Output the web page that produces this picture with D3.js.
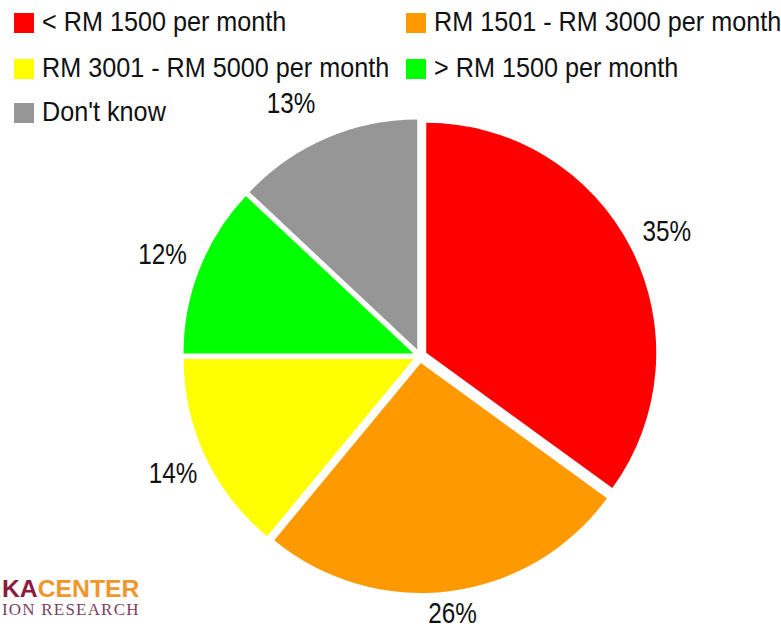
<!DOCTYPE html>
<html>
<head>
    <meta charset="utf-8">
    <title>Income pie</title>
    <script src="https://d3js.org/d3.v7.min.js"></script>
    <style>
        body { margin: 0; background: #fff; }
        svg text { font-family: 'Liberation Sans', Arial, sans-serif; fill: #111; }
    </style>
</head>
<body>
    <svg width="781" height="629"></svg>
    <script>
        // data
        var categories = ["< RM 1500 per month", "RM 1501 - RM 3000 per month", "RM 3001 - RM 5000 per month", "> RM 1500 per month", "Don't know"];
        var values = [35, 26, 14, 12, 13];
        var colors = ["#ff0000", "#ff9900", "#ffff00", "#00ff00", "#969696"];

        var svg = d3.select("svg");
        var cx = 420, cy = 356, radius = 230, explode = 7;
        // no narrow font installed, so squeeze the text horizontally
        var legendSqueeze = 0.9, labelSqueeze = 0.81;

        var pie = d3.pie().sort(null).value(d => d.value);
        var arc = d3.arc().innerRadius(0).outerRadius(radius);

        var data = categories.map((c, i) => ({ name: c, value: values[i], color: colors[i] }));
        var arcs = pie(data);

        var g = svg.append("g").attr("transform", "translate(" + cx + "," + cy + ")");

        g.selectAll("path")
            .data(arcs)
            .enter().append("path")
            .attr("d", arc)
            .attr("fill", d => d.data.color)
            .attr("transform", function (d) {
                var a = (d.startAngle + d.endAngle) / 2;
                return "translate(" + (Math.sin(a) * explode) + "," + (-Math.cos(a) * explode) + ")";
            });

        // percentage labels outside the slices (small nudges so they sit where the original put them)
        var labelR = [277, 259, 273, 277, 284];
        var labelNudge = [0, 0, 0, 0, -0.063];
        g.selectAll("text.pct")
            .data(arcs)
            .enter().append("text")
            .attr("class", "pct")
            .attr("text-anchor", "middle")
            .attr("dominant-baseline", "central")
            .style("font-size", "30px")
            .attr("transform", function (d, i) {
                var a = (d.startAngle + d.endAngle) / 2 + labelNudge[i];
                return "translate(" + (Math.sin(a) * labelR[i]) + "," + (-Math.cos(a) * labelR[i]) + ") scale(" + labelSqueeze + ",1)";
            })
            .text(d => d.data.value + "%");

        // legend
        var legendPos = [[14, 22], [406, 22], [14, 68], [406, 68], [14, 112]];
        var legend = svg.append("g").selectAll("g")
            .data(data)
            .enter().append("g")
            .attr("transform", (d, i) => "translate(" + legendPos[i][0] + "," + legendPos[i][1] + ")");
        legend.append("rect")
            .attr("x", 0).attr("y", -9)
            .attr("width", 20).attr("height", 20)
            .attr("fill", d => d.color);
        legend.append("text")
            .attr("transform", "translate(28,0) scale(" + legendSqueeze + ",1)")
            .attr("dominant-baseline", "central")
            .style("font-size", "28px")
            .text(d => d.name);

        // cropped logo in the corner
        var logo = svg.append("g");
        var t1 = logo.append("text")
            .attr("transform", "translate(2,597) scale(1.03,1)")
            .style("font-weight", "bold")
            .style("font-size", "24px");
        t1.append("tspan").style("fill", "#8b1c3c").text("KA");
        t1.append("tspan").style("fill", "#f0962a").text("CENTER");
        logo.append("text")
            .attr("x", 2).attr("y", 615)
            .style("font-family", "'Liberation Serif', serif")
            .style("font-size", "17px")
            .style("letter-spacing", "1.2px")
            .style("fill", "#7b3f63")
            .text("ION RESEARCH");
    </script>
</body>
</html>
